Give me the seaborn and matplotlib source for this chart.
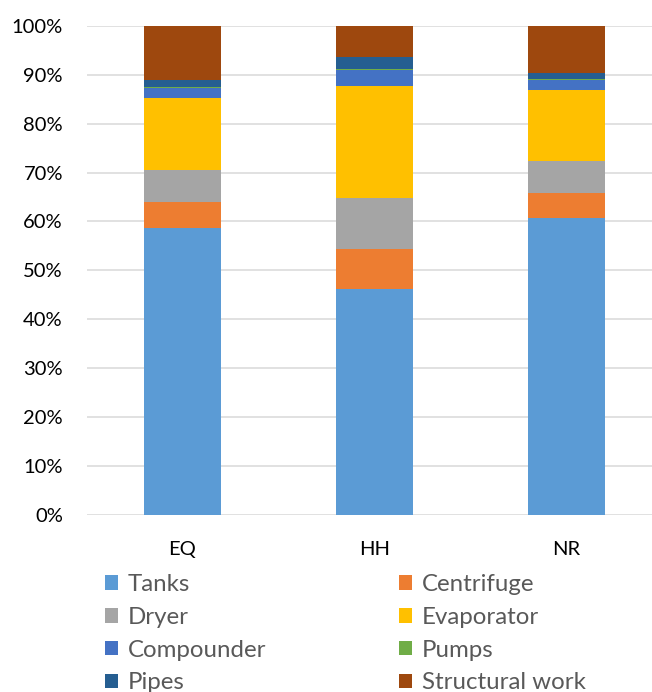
import matplotlib
matplotlib.use("Agg")
import matplotlib.pyplot as plt
from matplotlib.patches import Patch
from matplotlib.ticker import PercentFormatter
import numpy as np
import pandas as pd
import seaborn as sns

# Cost share of each component per site (percent of total)
sites = ["EQ", "HH", "NR"]
components = ["Tanks", "Centrifuge", "Dryer", "Evaporator",
              "Compounder", "Pumps", "Pipes", "Structural work"]
tanks = [58.7, 46.1, 60.7]
centrifuge = [5.3, 8.3, 5.2]
dryer = [6.6, 10.4, 6.5]
evaporator = [14.7, 22.9, 14.4]
compounder = [2.1, 3.3, 2.1]
pumps = [0.15, 0.27, 0.2]
pipes = [1.35, 2.45, 1.2]
structural = [11.1, 6.28, 9.7]

colors = ["#5B9BD5", "#ED7D31", "#A5A5A5", "#FFC000",
          "#4472C4", "#70AD47", "#255E91", "#9E480E"]

values = np.array([tanks, centrifuge, dryer, evaporator,
                   compounder, pumps, pipes, structural], dtype=float)
shares = values / values.sum(axis=0) * 100
cumulative = np.cumsum(shares, axis=0)

sns.set_theme(style="white")
plt.rcParams["font.family"] = ["Lato", "DejaVu Sans"]

fig = plt.figure(figsize=(6.52, 6.92), dpi=100)
ax = fig.add_axes([86.5 / 652, 177.5 / 692, 576 / 652, 488.5 / 692])

# Stacked bars: draw cumulative tops from the highest layer down
for i in range(len(components) - 1, -1, -1):
    df = pd.DataFrame({"site": sites, "top": cumulative[i]})
    sns.barplot(data=df, x="site", y="top", color=colors[i], saturation=1,
                width=0.4, linewidth=0, ax=ax, order=sites)

ax.set_xlim(-0.5, 2.5)
ax.set_ylim(0, 100)
ax.set_yticks(np.arange(0, 101, 10))
ax.yaxis.set_major_formatter(PercentFormatter(decimals=0))
ax.set_xlabel("")
ax.set_ylabel("")
ax.grid(axis="y", color="#D9D9D9", linewidth=1.1)
ax.set_axisbelow(True)
for s in ax.spines.values():
    s.set_visible(False)
ax.tick_params(axis="both", length=0, labelsize=14.5, colors="#000000")
ax.tick_params(axis="y", pad=17)
ax.tick_params(axis="x", pad=19)

# Two-column legend below the plot, filled row by row
handles = [Patch(facecolor=c, edgecolor="none") for c in colors]
legend_kw = dict(frameon=False, fontsize=17.3, handlelength=0.55,
                 handleheight=0.55, handletextpad=0.4, labelspacing=0.49,
                 borderpad=0, borderaxespad=0, labelcolor="#595959",
                 loc="upper left")
fig.legend(handles[0::2], components[0::2],
           bbox_to_anchor=(105 / 652, 1 - 574 / 692), **legend_kw)
fig.legend(handles[1::2], components[1::2],
           bbox_to_anchor=(399 / 652, 1 - 574 / 692), **legend_kw)

fig.savefig("out.png", dpi=100)
